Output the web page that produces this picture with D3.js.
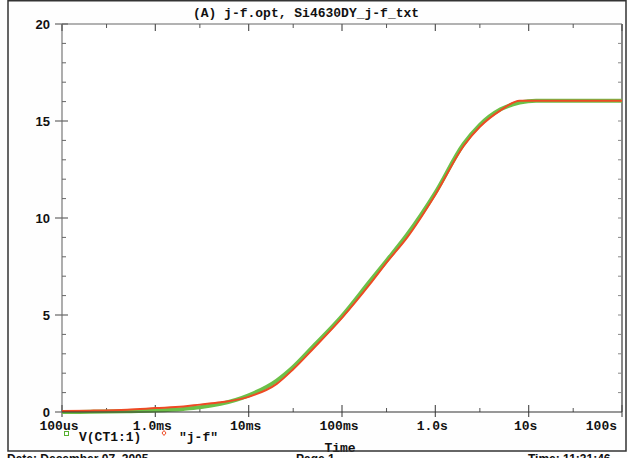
<!DOCTYPE html>
<html>
<head>
<meta charset="utf-8">
<script src="https://cdn.jsdelivr.net/npm/d3@7"></script>
<style>
    html, body { margin: 0; background: #fefefe; overflow: hidden; }
    svg { display: block; }
    .mono { font-family: "Liberation Mono", "Courier New", monospace; font-weight: bold; font-size: 13px; fill: #111; }
    .sans { font-family: "Liberation Sans", Arial, sans-serif; font-weight: bold; font-size: 13px; fill: #111; }
</style>
</head>
<body>
<script>
//////////////////// DATA ////////////////////
// simulated curve V(CT1:1)
const simTime = [1e-4, 2e-4, 5e-4, 1e-3, 2e-3, 3e-3, 5e-3, 1e-2, 2e-2, 3e-2, 5e-2, 0.1, 0.2, 0.3, 0.5, 1, 2, 3, 5, 8, 12, 100];
const simValue = [0.0, 0.01, 0.04, 0.08, 0.16, 0.24, 0.42, 0.86, 1.62, 2.32, 3.42, 4.95, 6.75, 7.8, 9.15, 11.3, 13.8, 14.8, 15.6, 15.95, 16.05, 16.05];

// measured curve "j-f"
const measTime = [1e-4, 2e-4, 5e-4, 1e-3, 2e-3, 3e-3, 5e-3, 1e-2, 2e-2, 3e-2, 5e-2, 0.1, 0.2, 0.3, 0.5, 1, 2, 3, 5, 8, 100];
const measValue = [0.05, 0.07, 0.12, 0.2, 0.28, 0.38, 0.5, 0.78, 1.45, 2.2, 3.3, 4.85, 6.6, 7.7, 9.0, 11.2, 13.7, 14.7, 15.55, 16.05, 16.05];

// axis labels
const xTickValues = [1e-4, 1e-3, 1e-2, 1e-1, 1, 10, 100];
const xTickLabels = ["100us", "1.0ms", "10ms", "100ms", "1.0s", "10s", "100s"];
const yTickValues = [0, 5, 10, 15, 20];


//////////////////// HANDLE SIZES ////////////////////
const width = 628, height = 458;
const plot = { left: 62, right: 622, top: 24, bottom: 412 };

const svg = d3.select("body").append("svg")
    .attr("width", width)
    .attr("height", height)
    .style("overflow", "hidden");


//////////////////// SCALES ////////////////////
const scaleX = d3.scaleLog()
    .domain([1e-4, 100])
    .range([plot.left, plot.right]);

const scaleY = d3.scaleLinear()
    .domain([0, 20])
    .range([plot.bottom, plot.top]);

// minor ticks at 3x of each decade, unit ticks on y
const xMinor = xTickValues.slice(0, -1).map(d => d * 3);
const yMinor = d3.range(1, 20).filter(d => d % 5 != 0);
const yUnits = d3.range(1, 20);


//////////////////// PLOT FRAME ////////////////////
svg.append("rect")
    .attr("x", plot.left).attr("y", plot.top)
    .attr("width", plot.right - plot.left).attr("height", plot.bottom - plot.top)
    .attr("fill", "#fff");

const frame = svg.append("g");
// top, right, left lines
frame.append("line").attr("x1", plot.left).attr("x2", plot.right).attr("y1", plot.top).attr("y2", plot.top)
    .attr("stroke", "#666").attr("stroke-width", 1.2);
frame.append("line").attr("x1", plot.right).attr("x2", plot.right).attr("y1", plot.top).attr("y2", plot.bottom)
    .attr("stroke", "#888").attr("stroke-width", 2);
frame.append("line").attr("x1", plot.left).attr("x2", plot.left).attr("y1", plot.top).attr("y2", plot.bottom)
    .attr("stroke", "#777").attr("stroke-width", 1.2);

// x ticks (bottom crossing majors, top inward)
frame.selectAll(".xMajB").data(xTickValues).join("line")
    .attr("x1", d => scaleX(d)).attr("x2", d => scaleX(d))
    .attr("y1", plot.bottom - 7).attr("y2", plot.bottom + 5)
    .attr("stroke", "#555").attr("stroke-width", 1.2);
frame.selectAll(".xMinB").data(xMinor).join("line")
    .attr("x1", d => scaleX(d)).attr("x2", d => scaleX(d))
    .attr("y1", plot.bottom - 4).attr("y2", plot.bottom)
    .attr("stroke", "#555");
frame.selectAll(".xMajT").data(xTickValues).join("line")
    .attr("x1", d => scaleX(d)).attr("x2", d => scaleX(d))
    .attr("y1", plot.top).attr("y2", plot.top + 7)
    .attr("stroke", "#555").attr("stroke-width", 1.2);
frame.selectAll(".xMinT").data(xMinor).join("line")
    .attr("x1", d => scaleX(d)).attr("x2", d => scaleX(d))
    .attr("y1", plot.top).attr("y2", plot.top + 4)
    .attr("stroke", "#555");

// y ticks
frame.selectAll(".yMaj").data(yTickValues).join("line")
    .attr("x1", plot.left - 7).attr("x2", plot.left + 6)
    .attr("y1", d => scaleY(d)).attr("y2", d => scaleY(d))
    .attr("stroke", "#666").attr("stroke-width", 1.2);
frame.selectAll(".yMin").data(yMinor).join("line")
    .attr("x1", plot.left).attr("x2", plot.left + 4)
    .attr("y1", d => scaleY(d)).attr("y2", d => scaleY(d))
    .attr("stroke", "#666");
frame.selectAll(".yRight").data(yUnits).join("line")
    .attr("x1", plot.right - 4).attr("x2", plot.right)
    .attr("y1", d => scaleY(d)).attr("y2", d => scaleY(d))
    .attr("stroke", "#888");


//////////////////// CURVES ////////////////////
const line = d3.line()
    .x(d => scaleX(d[0]))
    .y(d => scaleY(d[1]))
    .curve(d3.curveMonotoneX);

svg.append("path")
    .datum(d3.zip(simTime, simValue))
    .attr("d", line)
    .attr("fill", "none")
    .attr("stroke", "#6cc048")
    .attr("stroke-width", 4)
    .attr("stroke-linejoin", "round");

svg.append("path")
    .datum(d3.zip(measTime, measValue))
    .attr("d", line)
    .attr("fill", "none")
    .attr("stroke", "#ee4a24")
    .attr("stroke-width", 2)
    .attr("stroke-linejoin", "round");

// bottom axis line drawn above curves
svg.append("line").attr("x1", plot.left).attr("x2", plot.right).attr("y1", plot.bottom).attr("y2", plot.bottom)
    .attr("stroke", "#333").attr("stroke-width", 1.2);


//////////////////// LABELS ////////////////////
// PSpice puts labels a bit left of the tick, last one flush right
const nLab = xTickValues.length;
svg.selectAll(".xLab").data(xTickValues).join("text")
    .attr("class", "mono")
    .attr("x", (d, i) => i == nLab - 1 ? scaleX(d) - 5 : scaleX(d) - 3)
    .attr("y", 430)
    .attr("text-anchor", (d, i) => i == nLab - 1 ? "end" : "middle")
    .text((d, i) => xTickLabels[i]);

svg.selectAll(".yLab").data(yTickValues).join("text")
    .attr("class", "sans")
    .attr("x", 50)
    .attr("y", d => scaleY(d) + 5)
    .attr("text-anchor", "end")
    .text(d => d);

svg.append("text")
    .attr("class", "mono")
    .attr("x", 306).attr("y", 17)
    .attr("text-anchor", "middle")
    .text("(A) j-f.opt, Si4630DY_j-f_txt");

svg.append("text")
    .attr("class", "mono")
    .attr("x", 340).attr("y", 452)
    .attr("text-anchor", "middle")
    .text("Time");

// legend
svg.append("rect")
    .attr("x", 64.5).attr("y", 431.5).attr("width", 4).attr("height", 4)
    .attr("fill", "none").attr("stroke", "#55b030");
svg.append("text").attr("class", "mono").attr("x", 79).attr("y", 441).text("V(CT1:1)");
svg.append("path")
    .attr("d", "M164,430.5 L166,433 L164,435.5 L162,433 Z")
    .attr("fill", "none").attr("stroke", "#ee4a24");
svg.append("text").attr("class", "mono").attr("x", 179).attr("y", 441).text("\"j-f\"");


//////////////////// OUTER BORDER + STATUS LINE ////////////////////
svg.append("path")
    .attr("d", "M8,0.75 L626,0.75 L626,451 L8,451 Z")
    .attr("fill", "none").attr("stroke", "#333").attr("stroke-width", 1.5);

const status = svg.append("g").attr("class", "sans").style("font-size", "12px");
status.append("text").attr("x", 7).attr("y", 463).text("Date: December 07, 2005");
status.append("text").attr("x", 296).attr("y", 463).text("Page 1");
status.append("text").attr("x", 528).attr("y", 463).text("Time: 11:31:46");
</script>
</body>
</html>
